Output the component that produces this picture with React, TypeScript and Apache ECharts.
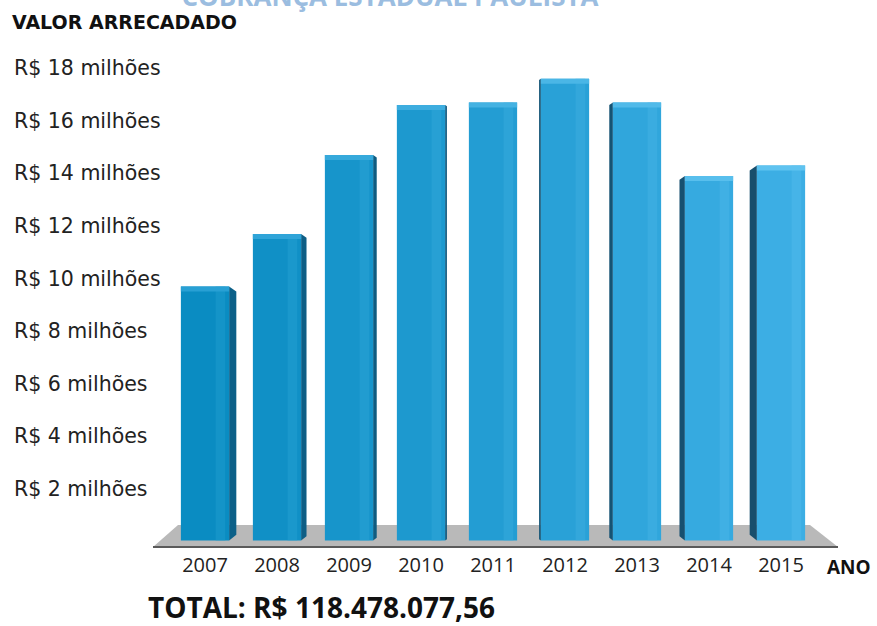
import React, { useEffect, useRef } from "react";
import * as echarts from "echarts";

const years = ["2007", "2008", "2009", "2010", "2011", "2012", "2013", "2014", "2015"];
const values = [9.7, 11.7, 14.7, 16.6, 16.7, 17.6, 16.7, 13.9, 14.3];
const tickValues = [2, 4, 6, 8, 10, 12, 14, 16, 18];
const title = "COBRANÇA ESTADUAL PAULISTA";
const yAxisTitle = "VALOR ARRECADADO";
const xAxisTitle = "ANO";
const totalText = "TOTAL: R$ 118.478.077,56";

function mix(a: number[], b: number[], t: number) {
  const c = a.map((v, i) => Math.round(v + (b[i] - v) * t));
  return `rgb(${c[0]},${c[1]},${c[2]})`;
}

export default function App() {
  const ref = useRef<HTMLDivElement>(null);
  useEffect(() => {
    if (!ref.current) return;
    const chart = echarts.init(ref.current, null, { renderer: "svg" });
    const n = years.length;
    const mid = (n - 1) / 2;
    const option: any = {
      animation: false,
      backgroundColor: "#ffffff",
      grid: { left: 169, right: 60, top: 15.6, bottom: 84.4 },
      xAxis: {
        type: "category",
        data: years,
        axisLine: { show: false },
        axisTick: { show: false },
        axisLabel: {
          margin: 13,
          fontSize: 20,
          color: "#222",
          fontFamily: "Open Sans",
        },
      },
      yAxis: {
        type: "value",
        min: 0,
        max: 20,
        interval: 2,
        splitLine: { show: false },
        axisLine: { show: false },
        axisTick: { show: false },
        axisLabel: {
          align: "left",
          margin: 155,
          fontSize: 20.5,
          color: "#222",
          fontFamily: "DejaVu Sans",
          formatter: (v: number) => (tickValues.indexOf(v) >= 0 ? `R$ ${v} milhões` : ""),
        },
      },
      graphic: [
        {
          type: "polygon",
          z: 0,
          shape: { points: [[178, 525], [810, 525], [838, 547], [153, 547]] },
          style: { fill: "#b9b9b9" },
        },
        {
          type: "rect",
          z: 0,
          shape: { x: 153, y: 546, width: 685, height: 2 },
          style: { fill: "#5a5a5a" },
        },
        {
          type: "text",
          x: 390,
          y: -4,
          style: {
            text: title,
            fill: "#9bbde0",
            font: "bold 26px 'Open Sans'",
            textAlign: "center",
            textVerticalAlign: "middle",
          },
        },
        {
          type: "text",
          x: 12,
          y: 22,
          style: {
            text: yAxisTitle,
            fill: "#111",
            font: "bold 19px 'DejaVu Sans'",
            textVerticalAlign: "middle",
          },
        },
        {
          type: "text",
          x: 827,
          y: 567,
          style: {
            text: xAxisTitle,
            fill: "#111",
            font: "bold 19px 'Open Sans'",
            textVerticalAlign: "middle",
          },
        },
        {
          type: "text",
          x: 148,
          y: 607,
          style: {
            text: totalText,
            fill: "#111",
            font: "bold 28px 'Open Sans'",
            lineHeight: 28,
            textVerticalAlign: "middle",
          },
        },
      ],
      series: [
        {
          type: "custom",
          z: 5,
          data: values.map((v, i) => [i, v]),
          renderItem: (params: any, api: any) => {
            const idx = api.value(0);
            const val = api.value(1);
            const top = api.coord([idx, val]);
            const base = api.coord([idx, 0]);
            const bw = api.size([1, 0])[0] * 0.67;
            const x0 = top[0] - bw / 2;
            const x1 = top[0] + bw / 2;
            const yTop = top[1];
            const yBot = base[1] - 1;
            const k = idx - mid;
            const d = Math.abs(k) * 1.8;
            const t = idx / (n - 1);
            const front = mix([10, 140, 194], [60, 174, 228], t);
            const frontLight = mix([30, 155, 205], [80, 186, 236], t);
            const side = mix([12, 96, 136], [24, 78, 108], t);
            const cap = mix([40, 160, 212], [95, 195, 240], t);
            const children: any[] = [];
            if (k < 0) {
              children.push({
                type: "polygon",
                shape: { points: [[x1, yTop], [x1 + d, yTop + d * 0.7], [x1 + d, yBot - d * 0.8], [x1, yBot]] },
                style: { fill: side },
              });
            } else if (k > 0) {
              children.push({
                type: "polygon",
                shape: { points: [[x0, yTop], [x0 - d, yTop + d * 0.7], [x0 - d, yBot - d * 0.8], [x0, yBot]] },
                style: { fill: side },
              });
            }
            children.push({
              type: "rect",
              shape: { x: x0, y: yTop, width: bw, height: yBot - yTop },
              style: { fill: front },
            });
            children.push({
              type: "rect",
              shape: { x: x0 + bw * 0.72, y: yTop, width: bw * 0.2, height: yBot - yTop },
              style: { fill: frontLight, opacity: 0.5 },
            });
            children.push({
              type: "rect",
              shape: { x: x0, y: yTop, width: bw, height: 5 },
              style: { fill: cap },
            });
            return { type: "group", children };
          },
        },
      ],
    };
    chart.setOption(option);
    return () => chart.dispose();
  }, []);
  return (
    <div
      ref={ref}
      style={{ position: "absolute", left: 0, top: 0, width: 877, height: 626 }}
    />
  );
}
